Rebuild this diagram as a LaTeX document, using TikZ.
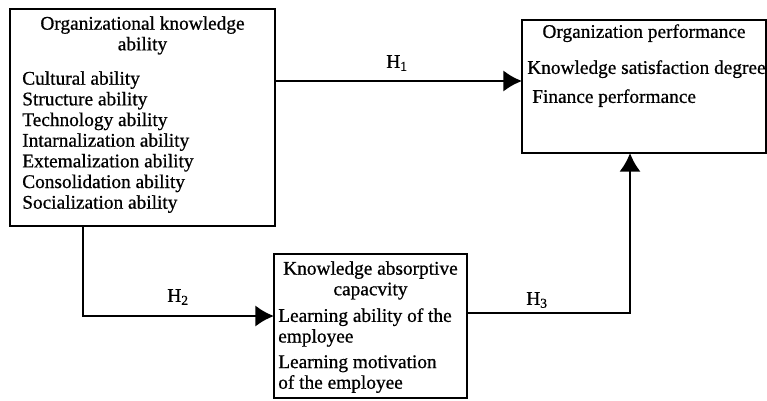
\documentclass[tikz,border=0pt]{standalone}
\usepackage{fontspec}
\setmainfont{Liberation Serif}[FakeBold=0.7]
\usetikzlibrary{arrows.meta}
\usetikzlibrary{positioning}
\tikzset{block/.style={rectangle,draw=black!100,line width=1.8pt,inner sep=0pt,outer sep=0pt}}
\tikzset{title/.style={align=center,inner sep=0pt,font=\fontsize{14.5}{15.5}\selectfont}}
\tikzset{items/.style={align=left,inner sep=0pt,font=\fontsize{14.5}{15.5}\selectfont}}
\tikzset{hyp/.style={inner sep=0pt,font=\fontsize{14.5}{15.5}\selectfont}}
\tikzset{link/.style={line width=1.8pt,-{Latex[length=14pt,width=16pt]}}}

\begin{document}
\begin{tikzpicture}[x=0.75pt,y=-0.75pt]
  \useasboundingbox (0,0) rectangle (767,400);
  % the three boxes
  \node[block,minimum width=198.75pt,minimum height=162.75pt] (org) at (142.5,117.5) {};
  \node[block,minimum width=183pt,minimum height=99.75pt] (perf) at (644,86.5) {};
  \node[block,minimum width=144.75pt,minimum height=108pt] (absorb) at (370.5,326) {};

  % texts in the boxes
  \node[title,anchor=north] (orgT) at (142.5,16) {Organizational knowledge\\ability};
  \node[items,anchor=north west] (orgL) at (22,71) {Cultural ability\\Structure ability\\Technology ability\\Intarnalization ability\\Extemalization ability\\Consolidation ability\\Socialization ability};
  \node[title,anchor=north] (perfT) at (644,24) {Organization performance};
  \node[items,anchor=north west] (perfA) at (527,60) {Knowledge satisfaction degree};
  \node[items,anchor=north west] (perfB) at (532,89) {Finance performance};
  \node[title,anchor=north] (absorbT) at (370.5,261) {Knowledge absorptive\\capacvity};
  \node[items,anchor=north west] (absorbA) at (278,308) {Learning ability of the\\employee};
  \node[items,anchor=north west] (absorbB) at (278,355) {Learning motivation\\of the employee};

  % hypotheses
  \coordinate (h1) at (400,81);
  \coordinate (h2) at (83,316);
  \coordinate (h3) at (630,313);
  \draw[link] (org.east |- h1) -- (perf.west |- h1);
  \draw[link] (org.south -| h2) |- (absorb.west |- h2);
  \draw[link] (absorb.east |- h3) -| (perf.south -| h3);
  \node[hyp] (H1) at (397,63) {H\textsubscript{1}};
  \node[hyp] (H2) at (178,297) {H\textsubscript{2}};
  \node[hyp] (H3) at (537,300) {H\textsubscript{3}};
\end{tikzpicture}
\end{document}
